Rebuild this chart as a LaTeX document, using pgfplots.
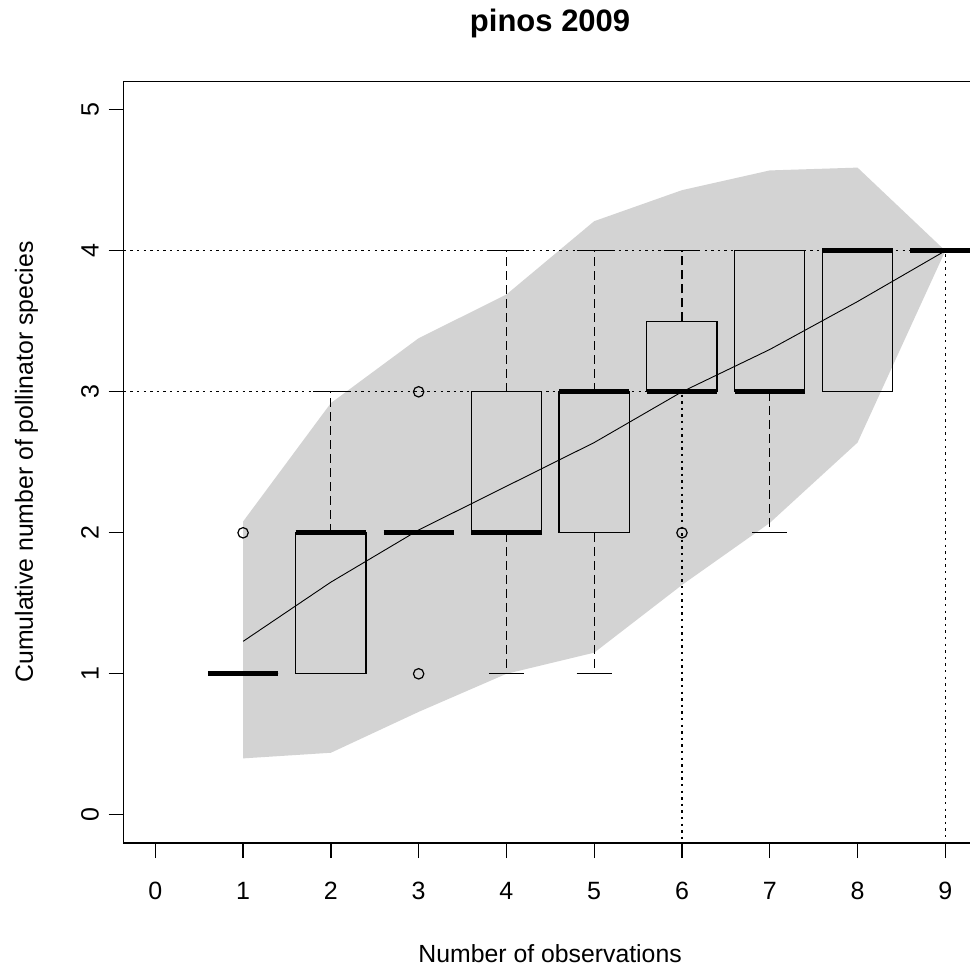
\documentclass[border=0pt]{standalone}
\usepackage{pgfplots}
\pgfplotsset{compat=1.18}
\usepackage{fontspec}
\setmainfont{Liberation Sans}
\definecolor{rgray}{RGB}{211,211,211}
\begin{document}
\begin{tikzpicture}
\begin{axis}[
  at={(0,0)}, anchor=south west,
  scale only axis,
  width=426.6pt, height=380.7pt,
  xmin=-0.36, xmax=9.36, ymin=-0.2, ymax=5.2,
  xtick={0,1,2,3,4,5,6,7,8,9},
  ytick={0,1,2,3,4,5},
  xtick pos=bottom, ytick pos=left,
  tick align=outside,
  major tick length=7.5pt,
  tick style={black, line width=0.65pt},
  axis line style={line width=0.65pt},
  /pgf/number format/assume math mode=true,
  ticklabel style={font=\fontsize{12.5}{14}\selectfont},
  xticklabel style={anchor=base, yshift=-20.5pt},
  yticklabel style={rotate=90, anchor=base, yshift=5pt},
  clip=true,
]
% envelope
\addplot[fill=rgray, draw=none] coordinates {
 (1,2.08) (2,2.92) (3,3.38) (4,3.69) (5,4.21) (6,4.43) (7,4.57) (8,4.59) (9,4.0)
 (8,2.64) (7,2.07) (6,1.63) (5,1.15) (4,1.0) (3,0.73) (2,0.44) (1,0.40) (1,2.08)};
% reference lines
\addplot[black, line width=0.55pt, dash pattern=on 1.2pt off 2.1pt] coordinates {(-0.36,3) (6,3) (6,-0.2)};
\addplot[black, line width=0.55pt, dash pattern=on 1.2pt off 2.1pt] coordinates {(-0.36,4) (9,4) (9,-0.2)};
% boxes
\addplot[black, line width=0.6pt] coordinates {(0.6,1) (1.4,1) (1.4,1) (0.6,1) (0.6,1)};
\addplot[black, line width=0.6pt] coordinates {(1.6,1) (2.4,1) (2.4,2) (1.6,2) (1.6,1)};
\addplot[black, line width=0.6pt] coordinates {(2.6,2) (3.4,2) (3.4,2) (2.6,2) (2.6,2)};
\addplot[black, line width=0.6pt] coordinates {(3.6,2) (4.4,2) (4.4,3) (3.6,3) (3.6,2)};
\addplot[black, line width=0.6pt] coordinates {(4.6,2) (5.4,2) (5.4,3) (4.6,3) (4.6,2)};
\addplot[black, line width=0.6pt] coordinates {(5.6,3) (6.4,3) (6.4,3.5) (5.6,3.5) (5.6,3)};
\addplot[black, line width=0.6pt] coordinates {(6.6,3) (7.4,3) (7.4,4) (6.6,4) (6.6,3)};
\addplot[black, line width=0.6pt] coordinates {(7.6,3) (8.4,3) (8.4,4) (7.6,4) (7.6,3)};
\addplot[black, line width=0.6pt] coordinates {(8.6,4) (9.4,4) (9.4,4) (8.6,4) (8.6,4)};
% whiskers
\addplot[black, line width=0.6pt, dash pattern=on 4.5pt off 2.5pt] coordinates {(2,2) (2,3)};
\addplot[black, line width=0.6pt, dash pattern=on 4.5pt off 2.5pt] coordinates {(4,3) (4,4)};
\addplot[black, line width=0.6pt, dash pattern=on 4.5pt off 2.5pt] coordinates {(4,2) (4,1)};
\addplot[black, line width=0.6pt, dash pattern=on 4.5pt off 2.5pt] coordinates {(5,3) (5,4)};
\addplot[black, line width=0.6pt, dash pattern=on 4.5pt off 2.5pt] coordinates {(5,2) (5,1)};
\addplot[black, line width=0.6pt, dash pattern=on 4.5pt off 2.5pt] coordinates {(6,3.5) (6,4)};
\addplot[black, line width=0.6pt, dash pattern=on 4.5pt off 2.5pt] coordinates {(7,3) (7,2)};
% staples
\addplot[black, line width=0.6pt] coordinates {(1.8,3) (2.2,3)};
\addplot[black, line width=0.6pt] coordinates {(3.8,4) (4.2,4)};
\addplot[black, line width=0.6pt] coordinates {(3.8,1) (4.2,1)};
\addplot[black, line width=0.6pt] coordinates {(4.8,4) (5.2,4)};
\addplot[black, line width=0.6pt] coordinates {(4.8,1) (5.2,1)};
\addplot[black, line width=0.6pt] coordinates {(5.8,4) (6.2,4)};
\addplot[black, line width=0.6pt] coordinates {(6.8,2) (7.2,2)};
\addplot[black, line width=0.6pt] coordinates {(6.8,4) (7.2,4)};
% medians
\addplot[black, line width=2.5pt] coordinates {(0.6,1) (1.4,1)};
\addplot[black, line width=2.5pt] coordinates {(1.6,2) (2.4,2)};
\addplot[black, line width=2.5pt] coordinates {(2.6,2) (3.4,2)};
\addplot[black, line width=2.5pt] coordinates {(3.6,2) (4.4,2)};
\addplot[black, line width=2.5pt] coordinates {(4.6,3) (5.4,3)};
\addplot[black, line width=2.5pt] coordinates {(5.6,3) (6.4,3)};
\addplot[black, line width=2.5pt] coordinates {(6.6,3) (7.4,3)};
\addplot[black, line width=2.5pt] coordinates {(7.6,4) (8.4,4)};
\addplot[black, line width=2.5pt] coordinates {(8.6,4) (9.4,4)};
% outliers
\addplot[only marks, mark=o, mark size=2.6pt, mark options={line width=0.6pt, black}] coordinates {(1,2) (3,1) (3,3) (6,2)};
% mean line
\addplot[black, line width=0.45pt] coordinates {(1,1.23) (2,1.65) (3,2.02) (4,2.33) (5,2.64) (6,3.0) (7,3.3) (8,3.64) (9,4.0)};
\end{axis}
\node[anchor=base, font=\fontsize{15.5}{17}\selectfont\bfseries] at (213.2pt,405.5pt) {pinos 2009};
\node[anchor=base, font=\fontsize{12.4}{14}\selectfont] at (213.2pt,-59.5pt) {Number of observations};
\node[anchor=base, rotate=90, font=\fontsize{12.4}{14}\selectfont] at (-45.35pt,190.5pt) {Cumulative number of pollinator species};
\pgfresetboundingbox
\useasboundingbox (-61.85pt,-64.5pt) rectangle (422.65pt,421.5pt);
\end{tikzpicture}
\end{document}
